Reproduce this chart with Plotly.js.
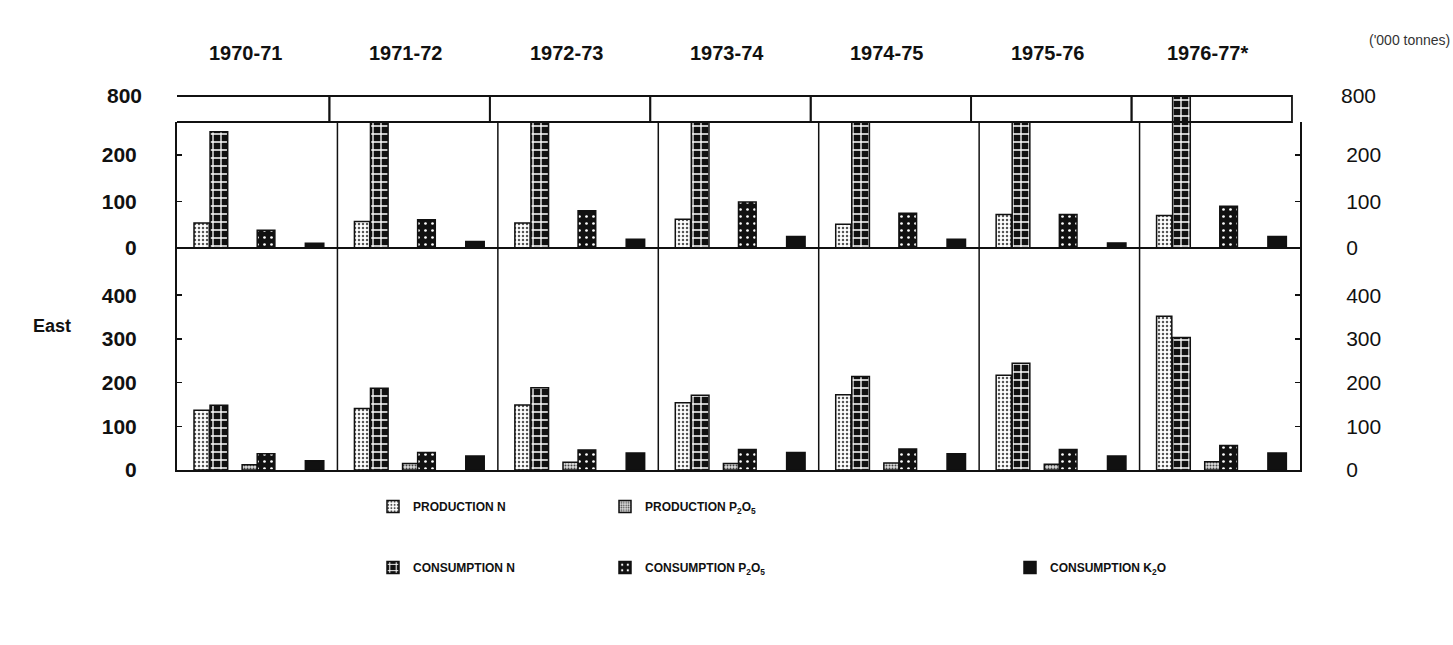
<!DOCTYPE html>
<html><head><meta charset="utf-8">
<script src="https://cdn.plot.ly/plotly-3.0.1.min.js"></script>
<style>html,body{margin:0;padding:0;background:#fff}#chart{width:1453px;height:645px}</style>
</head><body><div id="chart"></div>
<script>
// ---- data ('000 tonnes) ----
const years = ['1970-71','1971-72','1972-73','1973-74','1974-75','1975-76','1976-77*'];
const seriesNames = ['PRODUCTION N','PRODUCTION P<sub>2</sub>O<sub>5</sub>','CONSUMPTION N','CONSUMPTION P<sub>2</sub>O<sub>5</sub>','CONSUMPTION K<sub>2</sub>O'];
const regionLabel = 'East';
const unitLabel = "('000 tonnes)";

// upper panel (broken axis, top 800)
const topProdN = [54, 57, 54, 62, 51, 72, 70];
const topProdP = [0, 0, 0, 0, 0, 0, 0];
const topConsN = [250, 285, 285, 285, 285, 285, 800];
const topConsP = [38, 61, 80, 99, 75, 72, 90];
const topConsK = [10, 14, 19, 25, 19, 11, 25];

// East panel
const eastProdN = [137, 141, 149, 154, 172, 217, 352];
const eastProdP = [12, 15, 18, 15, 16, 13, 19];
const eastConsN = [148, 187, 188, 171, 214, 244, 303];
const eastConsP = [37, 40, 46, 47, 48, 47, 56];
const eastConsK = [21, 32, 39, 40, 37, 32, 39];

const bottomTicks = [0, 100, 200, 300, 400];
const topTicks = [0, 100, 200];
const breakTicks = [800];

// ---- styles ----
const W = 1453, H = 645;
const py = p => 1 - p / H;
const xDom = [177 / W, 1300 / W];
const dom = { east: [py(470), py(248)], top: [py(248), py(122)], strip: [py(122), py(96)] };
const INK = '#111';
const styles = [
  { offset: -0.394, width: 0.095, pattern: { shape: '.', fgcolor: '#555', bgcolor: '#fff', size: 4, solidity: 0.3 }, legend: 'legend' },
  { offset: -0.094, width: 0.095, pattern: { shape: '.', fgcolor: '#444', bgcolor: '#ddd', size: 3, solidity: 0.35 }, legend: 'legend2' },
  { offset: -0.294, width: 0.11, pattern: { shape: '+', fgcolor: '#fff', bgcolor: INK, size: 8, solidity: 0.3 }, legend: 'legend' },
  { offset: 0.0, width: 0.11, pattern: { shape: '.', fgcolor: '#fff', bgcolor: INK, size: 7, solidity: 0.12 }, legend: 'legend2' },
  { offset: 0.3, width: 0.115, pattern: null, legend: 'legend3' }
];
const topData = [topProdN, topProdP, topConsN, topConsP, topConsK];
const eastData = [eastProdN, eastProdP, eastConsN, eastConsP, eastConsK];

function bar(i, vals, yax, showLegend) {
  const s = styles[i];
  const marker = { color: INK, line: { color: INK, width: 1.5 } };
  if (s.pattern) marker.pattern = Object.assign({ fillmode: 'replace' }, s.pattern);
  return {
    type: 'bar', x: years, y: vals, yaxis: yax, xaxis: 'x',
    name: seriesNames[i], legendgroup: 'g' + i, legend: s.legend,
    showlegend: showLegend, offset: s.offset, width: s.width,
    marker: marker, hoverinfo: 'y+name'
  };
}
const traces = [];
for (let i = 0; i < 5; i++) {
  traces.push(bar(i, eastData[i], 'y', true));
  traces.push(bar(i, topData[i], 'y2', false));
  traces.push(bar(i, topData[i], 'y3', false));
}

const boldFont = { family: 'Liberation Sans, Arial, sans-serif', size: 21, color: INK, weight: 'bold' };
const regFont = { family: 'Liberation Sans, Arial, sans-serif', size: 21, color: INK };
function yAxis(domain, range, ticks, side, overlay, font, showline) {
  const a = {
    domain: domain, range: range, anchor: 'x', side: side,
    tickvals: ticks, ticktext: ticks.map(String), ticks: 'inside', ticklen: 5, tickwidth: 1.5, tickcolor: INK,
    showgrid: false, zeroline: false, showline: showline, linecolor: INK, linewidth: 2,
    tickfont: font, ticklabelstandoff: side === 'left' ? 34 : 40, fixedrange: true
  };
  if (overlay) a.overlaying = overlay;
  return a;
}

const shapes = [];
for (let i = 0; i < years.length; i++) {
  shapes.push({ type: 'rect', xref: 'x', yref: 'paper', x0: i - 0.55, x1: i + 0.45, y0: dom.strip[0], y1: dom.strip[1], line: { color: INK, width: 1.8 } });
}
for (let i = 0; i < years.length - 1; i++) {
  shapes.push({ type: 'line', xref: 'x', yref: 'paper', x0: i + 0.5, x1: i + 0.5, y0: dom.east[0], y1: dom.top[1], line: { color: INK, width: 1.5 } });
}
shapes.push({ type: 'line', xref: 'paper', yref: 'paper', x0: xDom[0], x1: xDom[1], y0: dom.top[0], y1: dom.top[0], line: { color: INK, width: 2 } });

const annotations = years.map(y => ({
  x: y, xref: 'x', y: py(40), yref: 'paper', text: y, showarrow: false, xshift: -12,
  font: { family: 'Liberation Sans, Arial, sans-serif', size: 20, color: INK, weight: 'bold' }
}));
annotations.push({ x: 31 / W, y: py(326), xref: 'paper', yref: 'paper', text: regionLabel, showarrow: false,
  font: { family: 'Liberation Sans, Arial, sans-serif', size: 18, color: INK, weight: 'bold' } });
annotations.push({ x: 0.999, xanchor: 'right', y: py(30), xref: 'paper', yref: 'paper', text: unitLabel, showarrow: false,
  font: { family: 'Liberation Sans, Arial, sans-serif', size: 14, color: '#333' } });

const legFont = { family: 'Liberation Sans, Arial, sans-serif', size: 12, color: INK, weight: 'bold' };
const legBase = { orientation: 'v', xanchor: 'left', yanchor: 'top', font: legFont, bgcolor: 'rgba(0,0,0,0)', traceorder: 'grouped', tracegroupgap: 42, itemwidth: 30 };

const layout = {
  width: W, height: H, paper_bgcolor: '#fff', plot_bgcolor: 'rgba(0,0,0,0)',
  margin: { l: 0, r: 0, t: 0, b: 0 }, barmode: 'overlay', showlegend: true,
  xaxis: { domain: xDom, anchor: 'y', type: 'category', range: [-0.5, years.length - 0.5], showticklabels: false, ticks: '', showgrid: false, zeroline: false, showline: true, linecolor: INK, linewidth: 2, fixedrange: true },
  yaxis: yAxis(dom.east, [0, 508], bottomTicks, 'left', null, boldFont, true),
  yaxis2: yAxis(dom.top, [0, 271], topTicks, 'left', null, boldFont, true),
  yaxis3: yAxis(dom.strip, [720, 800], breakTicks, 'left', null, boldFont, false),
  yaxis4: yAxis(dom.east, [0, 508], bottomTicks, 'right', 'y', regFont, true),
  yaxis5: yAxis(dom.top, [0, 271], topTicks, 'right', 'y2', regFont, true),
  yaxis6: yAxis(dom.strip, [720, 800], breakTicks, 'right', 'y3', regFont, false),
  legend: Object.assign({ x: 373 / W, y: py(492) }, legBase),
  legend2: Object.assign({ x: 605 / W, y: py(492) }, legBase),
  legend3: Object.assign({ x: 1010 / W, y: py(553) }, legBase),
  shapes: shapes, annotations: annotations
};
// empty traces so the right-hand axes render
traces.push({ type: 'bar', x: [], y: [], yaxis: 'y4', xaxis: 'x', showlegend: false, hoverinfo: 'skip' });
traces.push({ type: 'bar', x: [], y: [], yaxis: 'y5', xaxis: 'x', showlegend: false, hoverinfo: 'skip' });
traces.push({ type: 'bar', x: [], y: [], yaxis: 'y6', xaxis: 'x', showlegend: false, hoverinfo: 'skip' });

Plotly.newPlot('chart', traces, layout, { staticPlot: true, displayModeBar: false });
</script></body></html>
